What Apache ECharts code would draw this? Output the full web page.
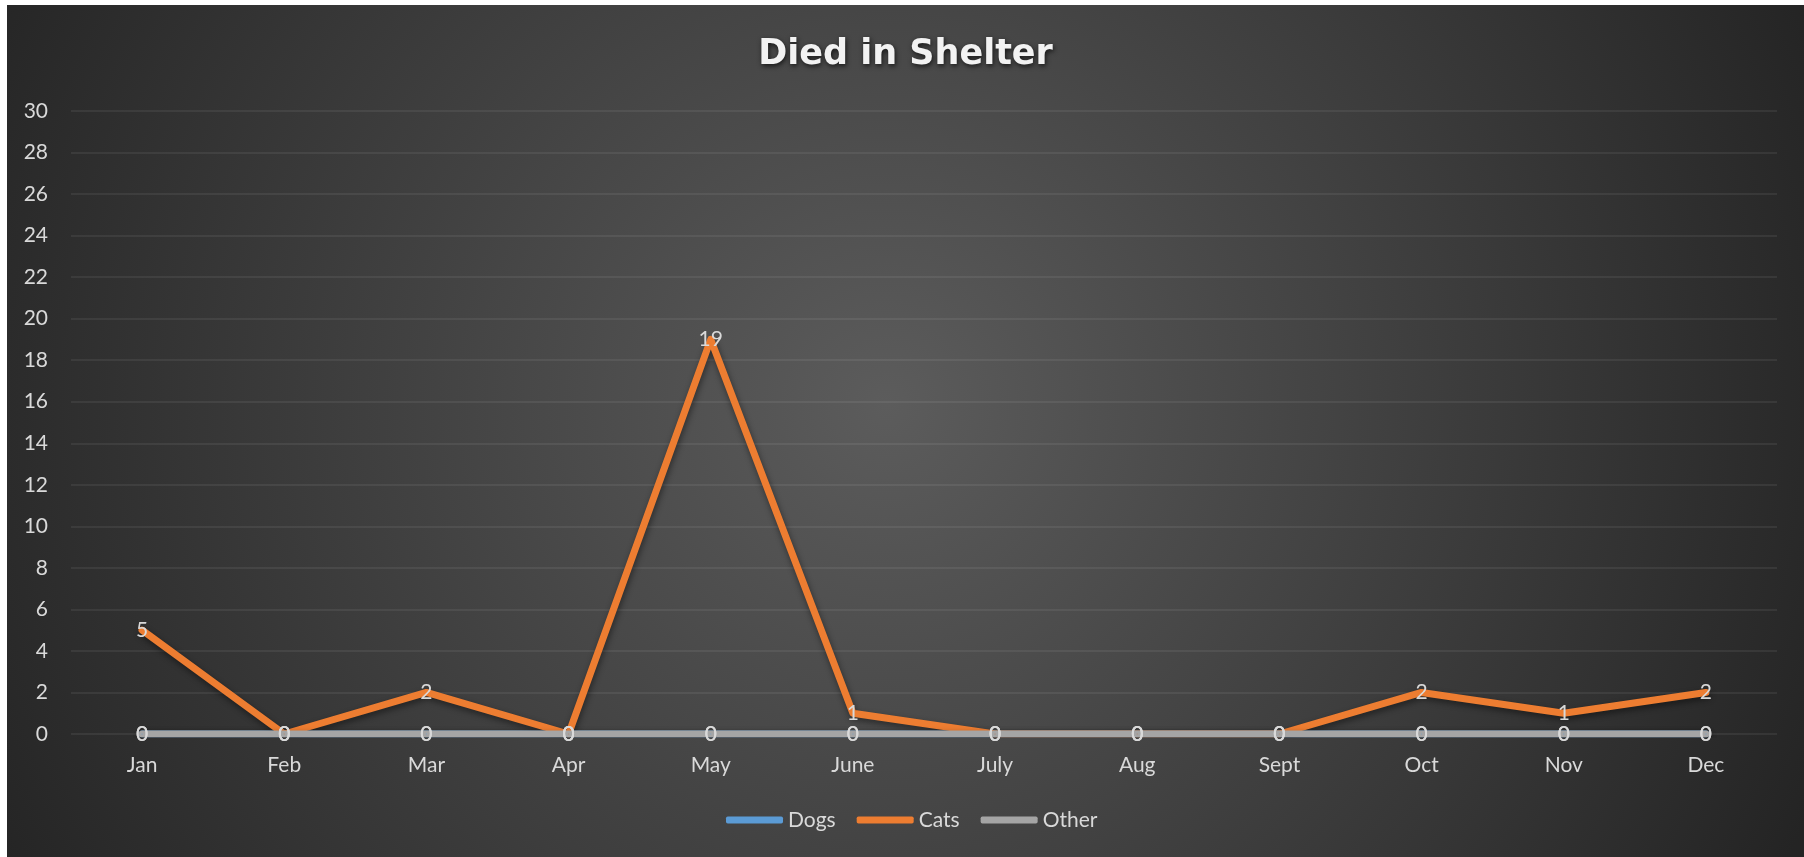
<!DOCTYPE html>
<html>
<head>
<meta charset="utf-8">
<script src="https://cdn.jsdelivr.net/npm/echarts@6/dist/echarts.min.js"></script>
<style>
  html, body { margin: 0; padding: 0; background: #ffffff; width: 1804px; height: 857px; overflow: hidden; }
  #chart { position: absolute; left: 7px; top: 5px; width: 1797px; height: 852px; }
</style>
</head>
<body>
<div id="chart"></div>
<script>
const categories = ['Jan', 'Feb', 'Mar', 'Apr', 'May', 'June', 'July', 'Aug', 'Sept', 'Oct', 'Nov', 'Dec'];
const dogs  = [0, 0, 0, 0, 0, 0, 0, 0, 0, 0, 0, 0];
const cats  = [5, 0, 2, 0, 19, 1, 0, 0, 0, 2, 1, 2];
const other = [0, 0, 0, 0, 0, 0, 0, 0, 0, 0, 0, 0];
const seriesNames = ['Dogs', 'Cats', 'Other'];
const titleText = 'Died in Shelter';
const yMin = 0, yMax = 30, yStep = 2;

const chart = echarts.init(document.getElementById('chart'));
const labelColor = '#d9d9d9';
const font = 'Lato, "Open Sans", sans-serif';

function lineSeries(name, data, color) {
  return {
    name: name,
    type: 'line',
    data: data,
    symbol: 'circle',
    symbolSize: 1,
    showSymbol: true,
    color: color,
    itemStyle: { color: color, borderWidth: 0 },
    lineStyle: {
      width: 7, color: color, cap: 'round', join: 'round',
      shadowColor: 'rgba(0,0,0,0.45)', shadowBlur: 6, shadowOffsetY: 3, shadowOffsetX: 1
    },
    label: {
      show: true, position: 'inside', color: labelColor,
      fontSize: 21, fontFamily: font
    },
    emphasis: { disabled: true },
    animation: false
  };
}

chart.setOption({
  animation: false,
  backgroundColor: {
    type: 'radial', x: 880, y: 400, r: 1010, global: true,
    colorStops: [
      { offset: 0, color: '#5c5c5c' },
      { offset: 1, color: '#242424' }
    ]
  },
  title: {
    text: titleText,
    left: 'center',
    top: 29,
    padding: 0,
    textStyle: {
      color: '#f2f2f2', fontSize: 35, fontWeight: 'bold',
      fontFamily: '"DejaVu Sans", "Open Sans", sans-serif', lineHeight: 42,
      textShadowColor: 'rgba(0,0,0,0.7)', textShadowBlur: 5, textShadowOffsetX: 1, textShadowOffsetY: 2
    }
  },
  legend: {
    data: seriesNames,
    left: 719,
    top: 800,
    icon: 'roundRect',
    itemWidth: 57,
    itemHeight: 7,
    itemGap: 21,
    padding: 0,
    textStyle: { color: labelColor, fontSize: 21, fontFamily: font, lineHeight: 30 }
  },
  grid: { left: 64, right: 27, top: 106, bottom: 123, containLabel: false },
  xAxis: {
    type: 'category',
    data: categories,
    boundaryGap: true,
    axisLine: { show: false },
    axisTick: { show: false },
    axisLabel: { color: labelColor, fontSize: 21, fontFamily: font, margin: 21 }
  },
  yAxis: {
    type: 'value',
    min: yMin, max: yMax, interval: yStep,
    axisLine: { show: false },
    axisTick: { show: false },
    axisLabel: { color: labelColor, fontSize: 21, fontFamily: font, margin: 23 },
    splitLine: { lineStyle: { color: 'rgba(255,255,255,0.09)', width: 1.5 } }
  },
  series: [
    lineSeries(seriesNames[0], dogs, '#5B9BD5'),
    lineSeries(seriesNames[1], cats, '#ED7D31'),
    lineSeries(seriesNames[2], other, '#A5A5A5')
  ]
});
</script>
</body>
</html>
